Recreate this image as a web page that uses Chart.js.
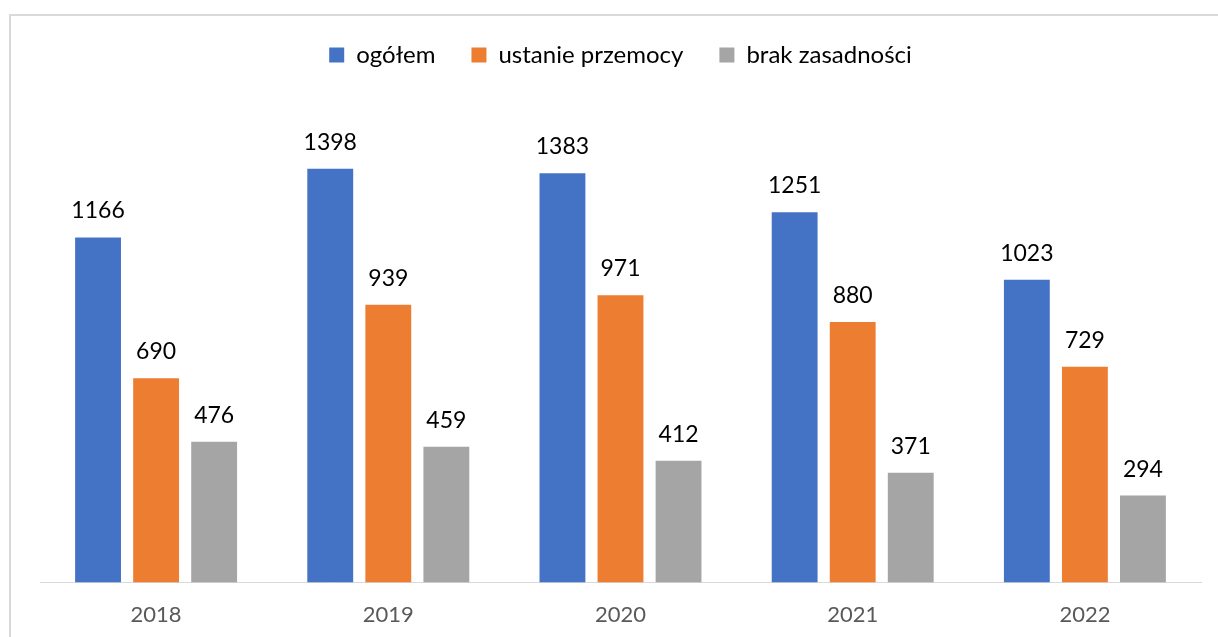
<!DOCTYPE html>
<html>
<head>
<meta charset="utf-8">
<script src="https://cdn.jsdelivr.net/npm/chart.js"></script>
<style>
  html, body { margin: 0; padding: 0; background: #fff; overflow: hidden; }
  #frame {
    position: absolute; left: 9px; top: 14px; width: 1230px; height: 640px;
    border: 2px solid #d9d9d9; box-sizing: border-box;
  }
  #chart { position: absolute; left: 0; top: 0; }
</style>
</head>
<body>
<div id="frame"></div>
<canvas id="chart" width="1218" height="637"></canvas>
<script>
const years = ['2018', '2019', '2020', '2021', '2022'];
const ogolem = [1166, 1398, 1383, 1251, 1023];
const ustanie = [690, 939, 971, 880, 729];
const brak = [476, 459, 412, 371, 294];

// draw the value above each bar
const valueLabels = {
    id: 'valueLabels',
    afterDatasetsDraw(chart) {
        const ctx = chart.ctx;
        ctx.save();
        ctx.font = '23px Lato';
        ctx.fillStyle = '#000';
        ctx.textAlign = 'center';
        ctx.textBaseline = 'alphabetic';
        chart.data.datasets.forEach((ds, i) => {
            chart.getDatasetMeta(i).data.forEach((bar, j) => {
                ctx.fillText(ds.data[j], bar.x, bar.y - 19);
            });
        });
        ctx.restore();
    }
};

// extra room under the legend
const legendGap = {
    id: 'legendGap',
    beforeInit(chart) {
        const fit = chart.legend.fit;
        chart.legend.fit = function () {
            fit.bind(chart.legend)();
            this.height += 32;
        };
    }
};

new Chart(document.getElementById('chart'), {
    type: 'bar',
    data: {
        labels: years,
        datasets: [
            { label: 'ogółem', data: ogolem, backgroundColor: '#4472c4' },
            { label: 'ustanie przemocy', data: ustanie, backgroundColor: '#ed7d31' },
            { label: 'brak zasadności', data: brak, backgroundColor: '#a5a5a5' }
        ]
    },
    options: {
        responsive: false,
        animation: false,
        devicePixelRatio: 1,
        categoryPercentage: 0.75,
        barPercentage: 0.79,
        layout: { padding: { left: 40, right: 17, top: 7, bottom: -2 } },
        plugins: {
            legend: {
                position: 'top',
                labels: {
                    boxWidth: 15, boxHeight: 15, padding: 36,
                    color: '#000',
                    font: { family: 'Lato', size: 24 }
                }
            },
            tooltip: { enabled: false }
        },
        scales: {
            x: {
                grid: { display: false },
                border: { color: '#d9d9d9', width: 1 },
                ticks: { color: '#595959', font: { family: 'Lato', size: 22 }, padding: 11 }
            },
            y: { display: false, min: 0, max: 1600 }
        }
    },
    plugins: [legendGap, valueLabels]
});
</script>
</body>
</html>
